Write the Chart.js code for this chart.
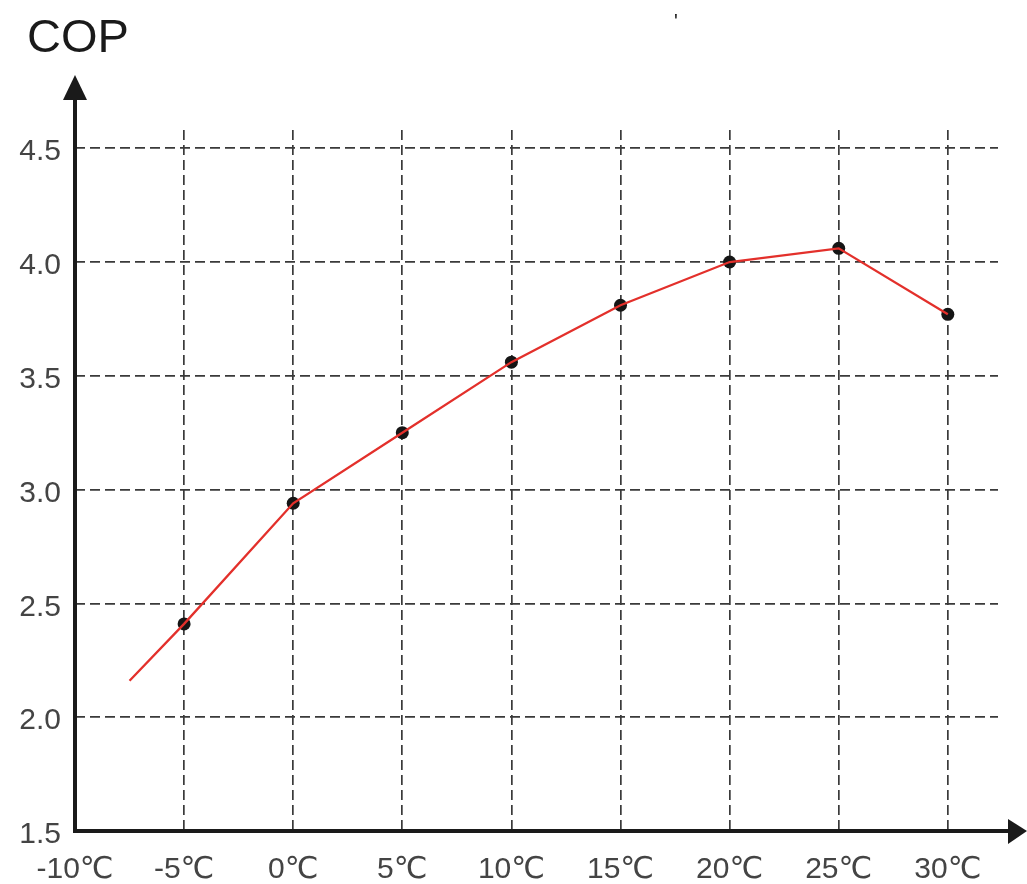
<!DOCTYPE html>
<html>
<head>
<meta charset="utf-8">
<script src="https://cdn.jsdelivr.net/npm/chart.js@4.4.1/dist/chart.umd.min.js"></script>
<style>
  html, body { margin: 0; padding: 0; background: #fff; }
  #wrap { width: 1027px; height: 884px; position: relative; }
</style>
</head>
<body>
<div id="wrap"><canvas id="copChart"></canvas></div>
<script>
// --- Data ---
const xTicks = [-10, -5, 0, 5, 10, 15, 20, 25, 30];
const yTicks = [1.5, 2.0, 2.5, 3.0, 3.5, 4.0, 4.5];
const tempC = [-5, 0, 5, 10, 15, 20, 25, 30];
const cop = [2.41, 2.94, 3.25, 3.56, 3.81, 4.0, 4.06, 3.77];
// the red line starts a bit before the first dot
const lineStartX = -7.5;
const lineStartY = 2.16;

const dots = tempC.map((t, i) => ({ x: t, y: cop[i] }));
const linePts = [{ x: lineStartX, y: lineStartY }].concat(dots);

const labelFont = { family: "'Liberation Sans', Arial, 'DejaVu Sans', sans-serif", size: 30 };

// --- Axes with arrow heads, title ---
const axesPlugin = {
    id: 'axesArrows',
    afterDraw(chart) {
        const { ctx, chartArea } = chart;
        const l = chartArea.left, b = chartArea.bottom;
        ctx.save();
        ctx.strokeStyle = '#1a1a1a';
        ctx.fillStyle = '#1a1a1a';
        ctx.lineWidth = 4;
        ctx.beginPath();
        ctx.moveTo(l, b + 2);
        ctx.lineTo(l, 98);
        ctx.moveTo(l - 2, b);
        ctx.lineTo(1010, b);
        ctx.stroke();
        // y arrow
        ctx.beginPath();
        ctx.moveTo(l - 12, 100);
        ctx.lineTo(l + 12, 100);
        ctx.lineTo(l, 75);
        ctx.closePath();
        ctx.fill();
        // x arrow
        ctx.beginPath();
        ctx.moveTo(1008, b - 12);
        ctx.lineTo(1008, b + 13);
        ctx.lineTo(1027, b);
        ctx.closePath();
        ctx.fill();
        // title
        ctx.font = "47px 'Liberation Sans', Arial, sans-serif";
        ctx.textBaseline = 'alphabetic';
        ctx.textAlign = 'left';
        ctx.fillText('COP', 27, 52);
        ctx.font = "20px 'Liberation Sans', Arial, sans-serif";
        ctx.fillText("'", 674, 28);
        ctx.restore();
    }
};

const ctx = document.getElementById('copChart').getContext('2d');

new Chart(ctx, {
    type: 'line',
    data: {
        datasets: [
            {
                label: 'COP line',
                data: linePts,
                borderColor: '#e3302b',
                borderWidth: 2.3,
                pointRadius: 0,
                fill: false,
                tension: 0,
                order: 1
            },
            {
                label: 'COP points',
                data: dots,
                showLine: false,
                pointRadius: 6.5,
                pointBackgroundColor: '#151515',
                pointBorderWidth: 0,
                order: 2
            }
        ]
    },
    options: {
        responsive: true,
        maintainAspectRatio: false,
        animation: false,
        layout: { padding: { top: 130, right: 29, left: 0, bottom: 0 } },
        plugins: {
            legend: { display: false },
            tooltip: { enabled: false },
            title: { display: false }
        },
        scales: {
            x: {
                type: 'linear',
                min: -10,
                max: 32.3,
                afterBuildTicks: s => { s.ticks = xTicks.map(v => ({ value: v })); },
                afterFit: s => { s.height = 53; },
                ticks: {
                    callback: v => v + '℃',
                    font: labelFont,
                    color: '#444',
                    padding: 21,
                    maxRotation: 0,
                    autoSkip: false
                },
                grid: { color: '#3a3a3a', lineWidth: 1.7, drawTicks: false },
                border: { display: false, dash: [10, 5] }
            },
            y: {
                type: 'linear',
                min: 1.5,
                max: 4.58,
                afterBuildTicks: s => { s.ticks = yTicks.map(v => ({ value: v })); },
                afterFit: s => { s.width = 75; },
                ticks: {
                    callback: v => v.toFixed(1),
                    font: labelFont,
                    color: '#444',
                    padding: 14,
                    labelOffset: 4
                },
                grid: { color: '#3a3a3a', lineWidth: 1.7, drawTicks: false },
                border: { display: false, dash: [10, 5] }
            }
        }
    },
    plugins: [axesPlugin]
});
</script>
</body>
</html>
